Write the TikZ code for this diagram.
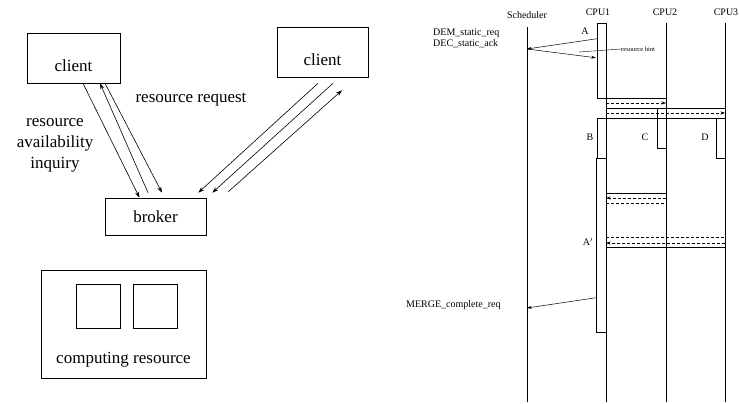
\documentclass[tikz,border=0pt]{standalone}
\usepackage{fontspec}
\setmainfont{Liberation Serif}
\usetikzlibrary{calc,arrows.meta}
\tikzstyle{entity} = [rectangle, draw, text centered, line width=0.6pt, inner sep=0pt, font=\fontsize{17}{21}\selectfont]
\tikzstyle{note} = [align=center, inner sep=0pt, font=\fontsize{17}{21}\selectfont]
\tikzstyle{seqlabel} = [inner sep=0pt, font=\fontsize{10}{12}\selectfont]
\tikzstyle{hintlabel} = [inner sep=0pt, font=\fontsize{6.5}{8}\selectfont]
\tikzstyle{actbox} = [rectangle, draw, line width=0.5pt, minimum width=9pt, inner sep=0pt]
\tikzstyle{connector} = [line width=0.6pt,->]
\tikzstyle{call} = [line width=0.5pt,>={Stealth[length=4.5pt,width=3pt]},->]
\tikzstyle{message} = [line width=0.4pt,densely dashed,>={Stealth[length=4.5pt,width=3pt]},->]
\tikzstyle{bar} = [line width=0.4pt]
\tikzstyle{lifeline} = [line width=0.5pt]

\begin{document}
\begin{tikzpicture}[x=1pt,y=-1pt,>={Stealth[length=6pt,width=4pt]}]
    \useasboundingbox (0,0) rectangle (739,404);
    % clients, broker and the resource
    \node (client-a) [entity, minimum width=93pt, minimum height=50pt, text height=28pt, text depth=0pt] at (73.5,58) {client};
    \node (client-b) [entity, minimum width=91pt, minimum height=50pt, text height=28pt, text depth=0pt] at (322.5,52) {client};
    \node (broker) [entity, minimum width=101pt, minimum height=37pt] at (155.5,216.5) {broker};
    \node (comp-res) [entity, minimum width=165pt, minimum height=108pt] at (123.5,324) {};
    \node (unit-a) [entity, minimum size=44pt] at (98,306) {};
    \node (unit-b) [entity, minimum size=44pt] at (155,306) {};
    \node (comp-label) [note, anchor=base] at ($(comp-res.south)+(0,-15)$) {computing resource};
    \node (inquiry) [note] at (55,145) {resource\\availability\\inquiry};
    \node (request) [note] at (191,100) {resource request};
    \draw [connector] ([xshift=9.5pt]client-a.south) -- ([xshift=-16pt]broker.north);
    \draw [connector] ($(broker.north)+(-7.5,-5)$) -- ([xshift=26.5pt]client-a.south);
    \draw [connector] ([xshift=31.5pt]client-a.south) -- ($(broker.north)+(6.5,-5)$);
    \draw [connector] ($(client-b.south)+(-4.5,6)$) -- ($(broker.north east)+(-8,-5)$);
    \draw [connector] ($(client-b.south)+(10.5,6)$) -- ($(broker.north east)+(6,-5)$);
    \draw [connector] ($(broker.north east)+(22,-6)$) -- ($(client-b.south)+(19.5,13)$);

    % scheduler and cpus
    \node (sched) [seqlabel] at (527,15) {Scheduler};
    \node (cpu1) [seqlabel] at (598,12) {CPU1};
    \node (cpu2) [seqlabel] at (665,12) {CPU2};
    \node (cpu3) [seqlabel] at (726,12) {CPU3};
    \coordinate (sched-top) at (527,27);
    \coordinate (cpu1-top) at (606,23);
    \coordinate (cpu2-top) at (666,23);
    \coordinate (cpu3-top) at (725,23);
    \draw [lifeline] (sched-top) -- ++(0,375);
    \draw [lifeline] (cpu1-top) -- ++(0,379);
    \draw [lifeline, line width=0.9pt] (cpu2-top) -- ++(0,379);
    \draw [lifeline] (cpu3-top) -- ++(0,379);
    \node (act-a) [actbox, minimum height=75pt] at (601.5,60.5) {};
    \node (act-b) [actbox, minimum height=40pt] at (601.5,138) {};
    \node (act-a2) [actbox, minimum height=174pt, minimum width=10pt] at (601,245) {};
    \node (act-c) [actbox, minimum height=40pt] at (661.5,128) {};
    \node (act-d) [actbox, minimum height=40pt] at (720.5,138) {};
    \node (lbl-a) [seqlabel] at (585,31) {A};
    \node (lbl-b) [seqlabel] at (590,137) {B};
    \node (lbl-c) [seqlabel] at (645,137) {C};
    \node (lbl-d) [seqlabel] at (705,137) {D};
    \node (lbl-a2) [seqlabel] at (588,242) {A$'$};

    % requests to the scheduler
    \node (dem) [seqlabel, anchor=west] at (433,33) {DEM\_static\_req};
    \node (dec) [seqlabel, anchor=west] at (433,44) {DEC\_static\_ack};
    \draw [call] ($(act-a.north west)+(0,16)$) -- ($(sched-top)+(0,22)$);
    \draw [call] ($(sched-top)+(0,22)$) -- ($(act-a.north west)+(-1,35)$);
    \node (hint) [hintlabel, anchor=west] at (621,49) {resource hint};
    \coordinate (hint-tip) at (579,52);
    \draw [bar] (hint.west) -- (hint-tip);
    \node (merge) [seqlabel, anchor=west] at (406,305) {MERGE\_complete\_req};
    \draw [call] ($(act-a2.north west)+(0,140)$) -- ($(sched-top)+(0,281)$);

    % fork and join bars
    \draw [bar] (act-a.south west) -- (cpu2-top |- act-a.south west);
    \draw [message] (cpu1-top |- 0,103) -- (cpu2-top |- 0,103);
    \draw [bar] (cpu1-top |- act-c.north) -- (cpu3-top |- act-c.north);
    \draw [message] (cpu1-top |- 0,113) -- (cpu3-top |- 0,113);
    \draw [bar] (act-b.north west) -- (act-d.north east);
    \draw [bar] (cpu1-top |- 0,193) -- (cpu2-top |- 0,193);
    \draw [message] (cpu2-top |- 0,198) -- (cpu1-top |- 0,198);
    \draw [bar, densely dashed] (cpu1-top |- 0,203) -- (cpu2-top |- 0,203);
    \draw [bar, densely dashed] (cpu1-top |- 0,237) -- (cpu3-top |- 0,237);
    \draw [message] (cpu3-top |- 0,243) -- (cpu1-top |- 0,243);
    \draw [bar] (cpu1-top |- 0,247) -- (cpu3-top |- 0,247);
\end{tikzpicture}
\end{document}
